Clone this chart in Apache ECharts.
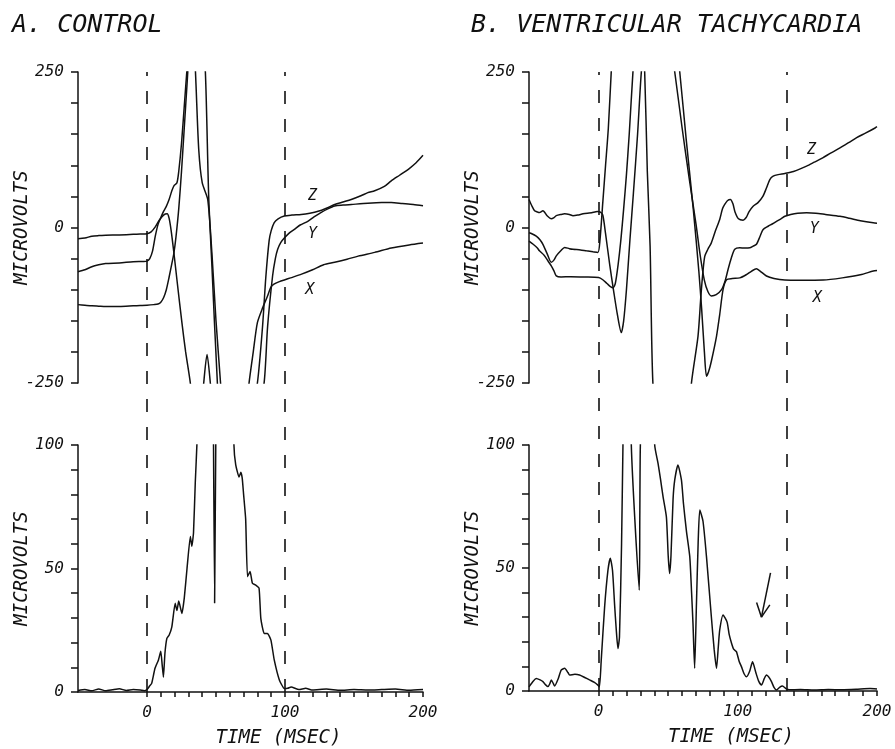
<!DOCTYPE html>
<html><head><meta charset="utf-8">
<script src="https://cdn.jsdelivr.net/npm/echarts@6/dist/echarts.min.js"></script>
<style>html,body{margin:0;padding:0;background:#fff}#c{width:895px;height:749px}</style>
</head><body><div id="c"></div>
<script>
// ---------- DATA ----------
const panelTitles = ['A. CONTROL', 'B. VENTRICULAR TACHYCARDIA'];
const yName = 'MICROVOLTS';
const xName = 'TIME (MSEC)';
const topLabels = [-250, 0, 250];
const botLabels = [0, 50, 100];
const xLabels = [0, 100, 200];
const xTicks = [0,10,20,30,40,50,60,70,80,90,100,110,120,130,140,150,160,170,180,190,200];
const aMarkers = [0, 100];
const bMarkers = [0, 135];

// Panel A (control) – X, Y, Z leads
const aTimeZ = [-50,-45,-40,-35,-30,-20,-10,-5,0,3,6,9,12,14.6,16,17.5,19.5,22,25.3,28,31.4,35,38,41.1,43.5,45.9,50,60,70,76,80,83.7,86.1,88.5,90,92.2,95,99.5,105,111.7,118,124,130,136,142,148,155,160,165,172,177,183,189.6,195,200];
const aZ = [-18,-17,-14,-13,-12.5,-12,-11,-10.5,-10,-7,1,12,20,22,15,-5,-41,-90,-153,-200,-250,-330,-330,-250,-204,-250,-350,-420,-350,-290,-250,-160,-80,-21,-5,8,14,18.5,20,21,23,26,31,37,41,45,51,56,59,66,75,84,94,104,116];
const aTimeY = [-50,-45,-40,-35,-30,-20,-10,-3,0,2,4,6,8,10,12,14,16,18,19.5,21.7,23,25,27,29,31,33,34.5,35.5,37.5,40,44,47,50,53.3,58,65,75,84.9,87.4,91,93,94.7,97,99.5,103,106.8,111,116.5,121,126,131,136,142,148,160,170,177,185,193,200];
const aY = [-71,-68,-63,-60,-58,-57,-55,-54.5,-54,-50,-38,-14,5,16,26,34,45,59,67,72,90,135,195,255,310,320,280,230,125,72,45,-40,-150,-250,-400,-480,-400,-249,-159,-78,-50,-35,-24,-17,-9,-3,4,10,17,24,30,34.6,36,37,39,40,40,38.5,37,35];
const aTimeX = [-50,-45,-40,-35,-30,-20,-10,-5,0,5,8,10,12,14,16,18,19.5,21,23,25,27,29,31,34,38,40,42.3,44.7,47,51,56,65,70,74,77,80,84,87,89.8,92,96,100,104,112,120,128,136,145,153,165,177,190,200];
const aX = [-124,-125,-126,-126.5,-127,-127,-126,-125.5,-125,-124,-123,-120,-113,-100,-80,-58,-41,-15,30,90,160,230,300,360,340,300,250,50,-60,-250,-420,-420,-330,-249,-200,-153,-128,-112,-96,-91,-87,-84,-81,-75,-68,-60,-56,-51,-46,-40,-33,-28,-25];
// Panel A – vector magnitude
const aTimeM = [-50,-45,-40,-35,-30,-25,-20,-15,-10,-5,-2,0,2,3.4,5.8,8.3,10,11,11.9,13,14.4,16,18,20.4,21.7,23,25.3,27,29,31.4,32.5,33.7,35,36.3,40,45,47.5,49,50.5,52,57,61,63,64.3,66.7,68,69,70,71.5,72.8,74.7,76.4,78.8,81.2,82.5,84.9,87.3,89.8,92.2,95.9,99.5,102,104.4,110,115,120,130,140,150,160,170,180,190,200];
const aMag = [0.6,1,0.5,1.2,0.5,0.9,1.3,0.6,1,0.8,0.5,1,2.5,3.5,9.6,13,16.5,11,6,15.7,21.7,23,26.4,35.9,33,36.8,31.8,38,50,63,59,64.5,85,102,180,250,160,36,160,250,300,200,100,92,87,89,86.6,80,70,46.7,48.8,44,43.3,42,29.7,23.7,23.7,21,13,4.9,1.4,1.5,2,1,1.5,0.8,1.2,0.7,1,0.8,1,1.2,0.7,1];

// Panel B (ventricular tachycardia) – X, Y, Z leads
const bTimeZ = [-50,-48,-46,-44,-42.5,-40,-37,-34,-32,-30.4,-27,-24.4,-21,-18.4,-15,-11.2,-8,-5,-1,1,3,5,8,11,13.5,16.3,18,20,22.5,25,28,30.7,32,33.1,35,37,39,45,55,62,66.7,71.4,73.5,75,76.3,78.5,81,84,87,89,90.6,92.5,94.7,96.5,98,100.5,103.8,106,108,111,114.5,118,120.5,123,125.4,129,133.8,140,149.4,155,161,167,173.4,180,185.4,192,198.6,200];
const bZ = [45,35,27,25,24,27,19,14,16,19,21,22,21,19,20,22,23,23.6,25.7,25,20,-10,-60,-105,-140,-169,-150,-100,-20,55,150,250,265,250,90,-30,-250,-420,-450,-380,-250,-175,-110,-70,-46,-35,-24.7,-5,13,30,37,43,45,38,25,14,11.8,16,25,34,40,50,63,77,82.5,85,86.8,90,98.6,105,112,120,128,137,144.5,152,160,162];
const bTimeY = [-50,-48,-44.8,-42,-40,-37,-34,-32,-30.4,-27,-24.4,-21,-18.4,-13,-8.8,-4,-0.5,1,3,5,7,9.1,12,20,35,45,54.7,60,65,70,73,76,78.5,81,84.5,88.3,91,93,95.5,97.8,101.4,105,108.6,111,113.4,116,118.2,121.8,125,127.8,131,133.8,138,143,149.4,156,163,173.4,180,188,197.3,200];
const bY = [-8.6,-10,-14,-20,-27,-42,-56,-52,-45.6,-37,-32,-34,-35,-36,-37.5,-39,-40,-20,40,100,160,251,360,500,520,400,250,160,80,5,-45,-85,-103,-110,-108,-100,-85,-67.5,-48,-35,-32.7,-33,-32.7,-30,-27,-14,-3.2,2,6,10,14,18,21,23,23.6,23,21,18,15,11,7.5,7];
const bTimeX = [-50,-47,-44,-42.5,-39,-36,-34,-32,-30.4,-27,-20,-10,0,3,6,8.5,10.3,12,14,16,18,20,22,24.7,28,40,50,58.3,63,68,72,74,76,77.5,79,81,84.7,87,89.4,91.9,96,101.4,106,110,113.4,116,120.6,126,133.8,145,161.4,175,188,197.3,200];
const bX = [-22,-27,-33,-37.5,-45,-55,-61.6,-70,-77.7,-79.5,-79,-79.5,-80.4,-84,-90,-95,-97,-90,-60,-20,30,85,150,251,350,500,420,250,140,30,-70,-130,-200,-239,-232,-215,-175,-140,-100,-84,-82,-81,-76,-70,-66.5,-70,-78,-82,-84.6,-85,-84.6,-81,-76,-70,-69];
// Panel B – vector magnitude
const bTimeM = [-50,-47,-44.8,-42,-40,-38,-36.4,-35,-34,-32.5,-31.6,-29,-26.9,-24.4,-22,-20.8,-17,-13.7,-10,-6.5,-3,-0.5,0.6,1.9,4.3,6.7,8.4,10,11.5,12.7,13.9,15,16.5,17.5,20,22,23.5,26,29.2,29.6,30,35,40.3,42.7,44.5,46.3,48.7,50,51,52,53.5,54.7,57,59.5,61,63.1,65.5,66.8,67.8,69,70.3,71.5,72.7,75,77.5,81,83,84.7,86,87,89.4,92.3,93.8,95.5,97,99,101,102.6,104.5,106.3,108.5,110.6,113,115,117,119,120.6,122.5,124.2,126,127.8,130,132.1,134.5,137,145,155,165,175,185,195,200];
const bMag = [1.7,4,5.1,4.5,3.8,2.5,1.8,3,4.5,3,2,5,8.5,9.2,7.5,6.5,6.8,6.5,5.5,4.5,3.5,2.4,1.7,12.6,34,49,54,49,35,24.8,17.3,22,60,100,180,150,100,70,41,70,100,200,100,92.5,86,79,70.8,55,47.8,55,78,85.8,91.9,85.8,76,65,54.6,40,27.5,9.2,35.6,60,73.6,69,54.6,30.2,17,9.2,18,24.8,30.9,28,23,19.4,17,16,12,9.9,7,5.8,8,11.9,7.4,4,2.4,5,6.5,5.5,3.8,1.5,0.4,1.5,2,1,0.5,0.6,0.4,0.6,0.5,0.7,1,0.8];

// lead label anchors (data units)
const aLeadLabels = [['Z',120,50],['Y',120,-11],['X',118,-100]];
const bLeadLabels = [['Z',153,125],['Y',155,-3],['X',157,-113]];
// arrow annotation in panel B bottom (data units): tail, tip, head arms
const arrowTail = [123.5,48];
const arrowTip = [117,30];
const arrowArmL = [113.5,36];
const arrowArmR = [123,35];

// ---------- BUILD ----------
const zip = (t, v) => t.map((x, i) => [x, v[i]]);
const FONT = "'DejaVu Sans Mono', monospace";
const INK = '#111';
const tStyle = (size) => ({fontFamily: FONT, fontStyle: 'italic', fontWeight: 'normal', color: INK, fontSize: size});

const grids = [
  {left: 78, top: 72, width: 345, height: 311},
  {left: 78, top: 445, width: 345, height: 247},
  {left: 529, top: 72, width: 348, height: 311},
  {left: 529, top: 445, width: 348, height: 246},
  {left: 78, top: 72, width: 345, height: 620},
  {left: 529, top: 72, width: 348, height: 619}
];

function xAx(i, visible) {
  const base = {type: 'value', gridIndex: i, min: -50, max: 200, splitLine: {show: false}};
  if (!visible) return Object.assign(base, {show: false});
  return Object.assign(base, {
    axisLine: {show: true, onZero: false, lineStyle: {color: INK, width: 1.5}},
    axisTick: {show: true, customValues: xTicks, length: 5, lineStyle: {color: INK, width: 1.5}},
    axisLabel: Object.assign(tStyle(16), {customValues: xLabels, margin: 13}),
    name: xName, nameLocation: 'middle', nameGap: 37, nameMoveOverlap: false,
    nameTextStyle: Object.assign(tStyle(19), {padding: [0, 0, 0, 56]})
  });
}
function yAx(i, kind) {
  if (kind === 'hidden') return {type: 'value', gridIndex: i, show: false, min: 0, max: 1};
  const top = kind === 'top';
  const labels = top ? topLabels : botLabels;
  return {
    type: 'value', gridIndex: i,
    min: top ? -250 : 0, max: top ? 250 : 100, interval: top ? 50 : 10,
    splitLine: {show: false},
    axisLine: {show: true, onZero: false, lineStyle: {color: INK, width: 1.5}},
    axisTick: {show: true, length: 7, lineStyle: {color: INK, width: 1.5}},
    axisLabel: Object.assign(tStyle(16), {margin: 14, formatter: v => labels.indexOf(v) >= 0 ? String(v) : ''}),
    name: yName, nameLocation: 'middle', nameRotate: 90, nameGap: 46, nameMoveOverlap: false,
    nameTextStyle: tStyle(19)
  };
}

const lineBase = (xi, data) => ({
  type: 'line', xAxisIndex: xi, yAxisIndex: xi, data: data, showSymbol: false, symbol: 'none',
  smooth: 0.25, clip: true, silent: true,
  lineStyle: {color: INK, width: 1.5}
});
function withLabel(s, lab) {
  s.markPoint = {
    symbol: 'circle', symbolSize: 0, silent: true,
    label: Object.assign(tStyle(15), {show: true, position: 'inside', formatter: p => p.name}),
    data: [{name: lab[0], coord: [lab[1], lab[2]]}]
  };
  return s;
}
function dashed(xi, markers) {
  return {
    type: 'line', xAxisIndex: xi, yAxisIndex: xi, data: [[0, 0]], symbol: 'none',
    lineStyle: {opacity: 0}, silent: true,
    markLine: {
      symbol: ['none', 'none'], silent: true, label: {show: false},
      lineStyle: {color: INK, width: 1.6, type: [13, 15]},
      data: markers.map(m => ({xAxis: m}))
    }
  };
}

const series = [
  withLabel(lineBase(0, zip(aTimeZ, aZ)), aLeadLabels[0]),
  withLabel(lineBase(0, zip(aTimeY, aY)), aLeadLabels[1]),
  withLabel(lineBase(0, zip(aTimeX, aX)), aLeadLabels[2]),
  Object.assign(lineBase(1, zip(aTimeM, aMag)), {smooth: 0.15}),
  withLabel(lineBase(2, zip(bTimeZ, bZ)), bLeadLabels[0]),
  withLabel(lineBase(2, zip(bTimeY, bY)), bLeadLabels[1]),
  withLabel(lineBase(2, zip(bTimeX, bX)), bLeadLabels[2]),
  Object.assign(lineBase(3, zip(bTimeM, bMag)), {
    smooth: 0.2,
    markLine: {
      symbol: ['none', 'none'], silent: true, label: {show: false},
      lineStyle: {color: INK, width: 1.5, type: 'solid'},
      data: [
        [{coord: arrowTail}, {coord: arrowTip}],
        [{coord: arrowArmL}, {coord: arrowTip}],
        [{coord: arrowArmR}, {coord: arrowTip}]
      ]
    }
  }),
  dashed(4, aMarkers),
  dashed(5, bMarkers)
];

const chart = echarts.init(document.getElementById('c'), null, {renderer: 'canvas'});
chart.setOption({
  animation: false,
  backgroundColor: '#fff',
  title: [
    {text: panelTitles[0], left: 7, top: 8, textStyle: tStyle(25)},
    {text: panelTitles[1], left: 466, top: 8, textStyle: tStyle(25)}
  ],
  grid: grids,
  xAxis: [xAx(0, false), xAx(1, true), xAx(2, false), xAx(3, true), xAx(4, false), xAx(5, false)],
  yAxis: [yAx(0, 'top'), yAx(1, 'bot'), yAx(2, 'top'), yAx(3, 'bot'), yAx(4, 'hidden'), yAx(5, 'hidden')],
  series: series
});
</script></body></html>
